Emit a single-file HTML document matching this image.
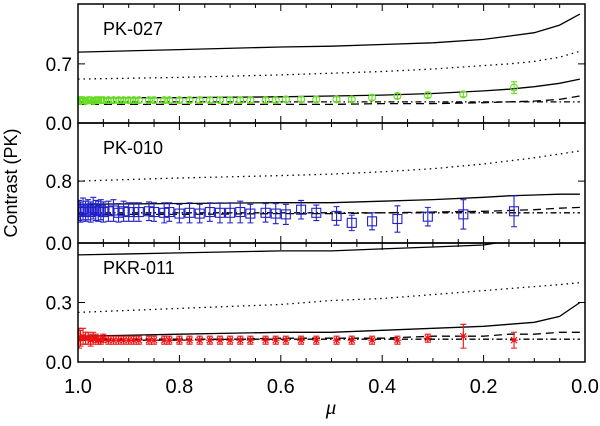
<!DOCTYPE html>
<html><head><meta charset="utf-8"><style>
body{margin:0;background:#fff}
svg{display:block;font-family:"Liberation Sans",sans-serif}
</style></head><body>
<svg id="chart" width="600" height="426" viewBox="0 0 600 426">
<g id="marks"></g>
<g id="axes"></g>
<text transform="translate(17,183) rotate(-90)" text-anchor="middle" font-size="18">Contrast (PK)</text>
<text x="331" y="414" text-anchor="middle" font-size="21" font-style="italic" font-family="Liberation Serif,serif">μ</text>
</svg>
<script>
// ---- data ----
const modelMu = [1.0, 0.8, 0.6, 0.5, 0.4, 0.3, 0.2, 0.15, 0.1, 0.05, 0.01];
const p1SolidHi = [0.84, 0.87, 0.90, 0.91, 0.93, 0.95, 0.99, 1.03, 1.07, 1.16, 1.29];
const p1Dotted  = [0.52, 0.54, 0.57, 0.59, 0.61, 0.64, 0.68, 0.70, 0.73, 0.78, 0.85];
const p1SolidLo = [0.30, 0.30, 0.31, 0.32, 0.33, 0.35, 0.38, 0.40, 0.43, 0.47, 0.52];
const p1Dashed  = [0.22, 0.22, 0.22, 0.22, 0.23, 0.23, 0.24, 0.25, 0.26, 0.28, 0.32];
const p1DashDot = [0.25, 0.25, 0.25, 0.25, 0.25, 0.25, 0.25, 0.25, 0.25, 0.25, 0.25];
const p2SolidHi = [0.50, 0.51, 0.52, 0.52, 0.54, 0.56, 0.59, 0.61, 0.62, 0.63, 0.63];
const p2Dotted  = [0.80, 0.84, 0.87, 0.89, 0.92, 0.96, 1.02, 1.06, 1.10, 1.15, 1.19];
const p2Dashed  = [0.37, 0.37, 0.38, 0.38, 0.39, 0.40, 0.41, 0.42, 0.43, 0.45, 0.46];
const p2DashDot = [0.39, 0.39, 0.39, 0.39, 0.39, 0.39, 0.39, 0.39, 0.39, 0.39, 0.39];
const p3SolidHi = [0.54, 0.55, 0.56, 0.56, 0.57, 0.58, 0.59, 0.61, 0.64, 0.68, 0.72];
const p3Dotted  = [0.25, 0.27, 0.29, 0.31, 0.32, 0.34, 0.36, 0.37, 0.38, 0.39, 0.40];
const p3SolidLo = [0.13, 0.14, 0.15, 0.15, 0.16, 0.17, 0.18, 0.19, 0.20, 0.23, 0.30];
const p3Dashed  = [0.11, 0.11, 0.12, 0.12, 0.12, 0.13, 0.13, 0.14, 0.14, 0.15, 0.15];
const p3DashDot = [0.115,0.115,0.115,0.115,0.115,0.115,0.115,0.115,0.115,0.115,0.115];

const obsMu = [0.998,0.995,0.99,0.985,0.98,0.975,0.97,0.965,0.96,0.955,0.95,0.94,0.93,0.92,0.91,0.90,0.89,0.88,0.86,0.85,0.83,0.82,0.80,0.78,0.76,0.74,0.72,0.70,0.68,0.66,0.63,0.61,0.59,0.56,0.53,0.49,0.46,0.42,0.37,0.31,0.24,0.14];
const greenVal = [0.26,0.27,0.27,0.26,0.27,0.27,0.26,0.27,0.27,0.27,0.27,0.27,0.27,0.27,0.27,0.27,0.27,0.27,0.27,0.27,0.27,0.27,0.27,0.27,0.27,0.27,0.27,0.27,0.27,0.27,0.27,0.27,0.28,0.28,0.28,0.28,0.28,0.30,0.32,0.33,0.34,0.42];
const greenErr = [0.04,0.04,0.03,0.03,0.03,0.03,0.03,0.03,0.03,0.03,0.03,0.03,0.03,0.03,0.03,0.03,0.03,0.03,0.03,0.03,0.03,0.03,0.03,0.03,0.03,0.03,0.03,0.03,0.03,0.03,0.03,0.03,0.03,0.03,0.03,0.03,0.03,0.03,0.03,0.03,0.03,0.07];
const blueVal = [0.42,0.40,0.44,0.41,0.43,0.40,0.45,0.42,0.41,0.43,0.40,0.41,0.42,0.39,0.41,0.40,0.40,0.40,0.41,0.40,0.39,0.40,0.38,0.39,0.38,0.40,0.39,0.39,0.40,0.38,0.39,0.38,0.37,0.43,0.39,0.35,0.26,0.28,0.31,0.34,0.37,0.41];
const blueErr = [0.13,0.13,0.14,0.13,0.13,0.13,0.14,0.13,0.13,0.13,0.13,0.13,0.14,0.12,0.13,0.12,0.12,0.12,0.12,0.12,0.13,0.12,0.12,0.13,0.12,0.12,0.13,0.13,0.14,0.12,0.12,0.13,0.13,0.12,0.10,0.12,0.10,0.11,0.17,0.12,0.19,0.20];
const redVal = [0.12,0.12,0.13,0.12,0.12,0.11,0.12,0.12,0.11,0.11,0.12,0.11,0.11,0.11,0.11,0.11,0.11,0.11,0.11,0.11,0.11,0.11,0.11,0.11,0.11,0.11,0.11,0.11,0.11,0.11,0.11,0.11,0.11,0.11,0.11,0.11,0.11,0.11,0.11,0.12,0.13,0.11];
const redErr = [0.05,0.04,0.04,0.03,0.03,0.03,0.03,0.02,0.02,0.02,0.02,0.02,0.02,0.02,0.02,0.02,0.02,0.02,0.02,0.02,0.02,0.02,0.02,0.02,0.02,0.02,0.02,0.02,0.02,0.02,0.02,0.02,0.02,0.02,0.02,0.02,0.02,0.02,0.02,0.02,0.06,0.04];

const xTicks = [1.0, 0.8, 0.6, 0.4, 0.2, 0.0];
const xTickLabels = ["1.0","0.8","0.6","0.4","0.2","0.0"];

const panels = [
 {name:"PK-027", top:4, bot:123, ymax:1.41, ticks:[0,0.7], tickLabels:["0.0","0.7"],
  lines:[[p1SolidHi,""],[p1Dotted,"1.5 4"],[p1SolidLo,""],[p1Dashed,"8 5"],[p1DashDot,"6 3 1.5 3"]],
  vals:greenVal, errs:greenErr, color:"#66dd22", marker:"circle"},
 {name:"PK-010", top:123, bot:243, ymax:1.55, ticks:[0,0.8], tickLabels:["0.0","0.8"],
  lines:[[p2SolidHi,""],[p2Dotted,"1.5 4"],[p2Dashed,"8 5"],[p2DashDot,"6 3 1.5 3"]],
  vals:blueVal, errs:blueErr, color:"#2222cc", marker:"square"},
 {name:"PKR-011", top:243, bot:362, ymax:0.60, ticks:[0,0.3], tickLabels:["0.0","0.3"],
  lines:[[p3SolidHi,""],[p3Dotted,"1.5 4"],[p3SolidLo,""],[p3Dashed,"8 5"],[p3DashDot,"6 3 1.5 3"]],
  vals:redVal, errs:redErr, color:"#ee1111", marker:"star"}
];

const X0=78, X1=585;
const xs = m => X0 + (1-m)*(X1-X0);
const NS="http://www.w3.org/2000/svg";
const marks=document.getElementById('marks'), axes=document.getElementById('axes');
function mk(tag, attrs, parent){const e=document.createElementNS(NS,tag);for(const k in attrs)e.setAttribute(k,attrs[k]);parent.appendChild(e);return e;}

panels.forEach((p,pi)=>{
  const ys = v => p.bot - v/p.ymax*(p.bot-p.top);
  const cid='clip'+pi;
  const cp=mk('clipPath',{id:cid},marks);
  mk('rect',{x:X0,y:p.top,width:X1-X0,height:p.bot-p.top},cp);
  const g=mk('g',{'clip-path':`url(#${cid})`},marks);
  
  
  p.lines.forEach((l,li)=>{
    const d=l[0].map((v,i)=>(i?'L':'M')+xs(modelMu[i]).toFixed(1)+' '+ys(v).toFixed(1)).join(' ');
    const path=mk('path',{d:d,fill:'none',stroke:'#000','stroke-width':1.3,'stroke-dasharray':l[1]||'none'},g);
    
    
  });
  p.vals.forEach((v,i)=>{
    const x=xs(obsMu[i]), y=ys(v), e=p.errs[i]*(p.bot-p.top)/p.ymax;
    const mg=mk('g',{stroke:p.color,fill:'none','stroke-width':1.1},g);
    
    
    mk('path',{d:`M${x} ${y-e}V${y+e}M${x-3} ${y-e}H${x+3}M${x-3} ${y+e}H${x+3}`},mg);
    if(p.marker==='circle') mk('circle',{cx:x,cy:y,r:3.5},mg);
    else if(p.marker==='square') mk('rect',{x:x-4.5,y:y-4.5,width:9,height:9},mg);
    else mk('path',{d:`M${x-4} ${y}H${x+4}M${x} ${y-4}V${y+4}M${x-3} ${y-3}L${x+3} ${y+3}M${x-3} ${y+3}L${x+3} ${y-3}`},mg);
  });
  const fr=mk('rect',{x:X0,y:p.top,width:X1-X0,height:p.bot-p.top,fill:'none',stroke:'#000','stroke-width':1.5},axes);
  
  
  const t=mk('text',{x:103,y:p.top+31,'font-size':18},axes);
  t.textContent=p.name;
  
  
  p.ticks.forEach((tv,ti)=>{
    const y=ys(tv);
    mk('path',{d:`M${X0} ${y}h7M${X1} ${y}h-7`,stroke:'#000','stroke-width':1},axes);
    const tl=mk('text',{x:72,y:y+7,'text-anchor':'end','font-size':19},axes);
    tl.textContent=p.tickLabels[ti];
    
    
  });
  for(let k=0;k<=20;k++){
    const x=xs(k/20), len=(k%4===0)?7:4;
    mk('path',{d:`M${x} ${p.bot}v-${len}M${x} ${p.top}v${len}`,stroke:'#000','stroke-width':1},axes);
  }
});
xTicks.forEach((tv,i)=>{
  const t=mk('text',{x:xs(tv),y:393,'text-anchor':'middle','font-size':20},axes);
  t.textContent=xTickLabels[i];
  
  
});
</script>
</body></html>
